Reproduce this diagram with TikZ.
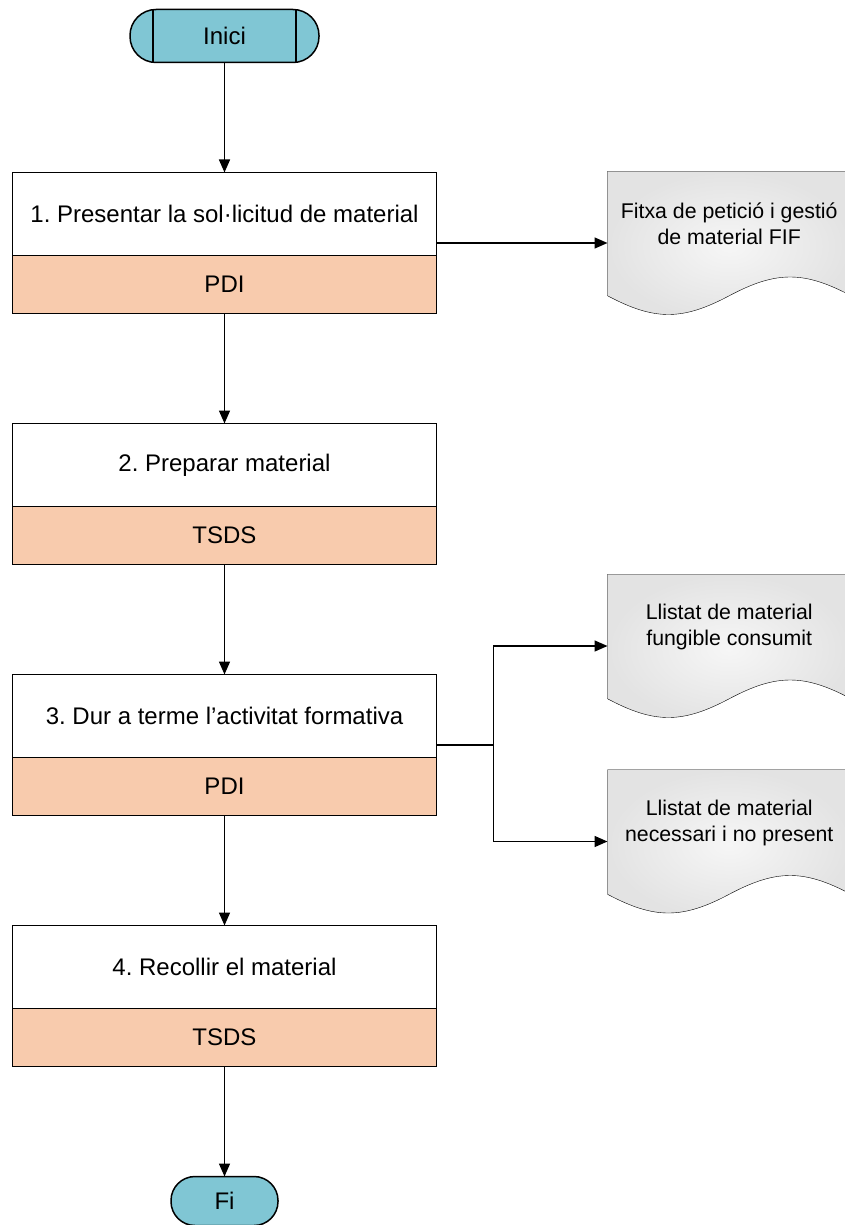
\documentclass[tikz,border=0pt]{standalone}
\usepackage{fontspec}
\setmainfont{Liberation Sans}
\frenchspacing
\usetikzlibrary{positioning,arrows.meta,calc,backgrounds}
\definecolor{startblue}{RGB}{128,198,212}
\definecolor{roleorange}{RGB}{248,203,173}

\begin{document}
\begin{tikzpicture}[node distance=110pt, >={Triangle[length=13pt,width=11pt]}, line width=1.5pt]
      % Styles
      \tikzset{
        terminal/.style={rectangle, draw=black, fill=startblue, rounded corners=26pt,
                         minimum height=53pt, outer sep=0pt, font=\fontsize{24}{29}\selectfont},
        stepbox/.style={rectangle, draw=black, fill=white, minimum width=424pt,
                        minimum height=83pt, outer sep=0pt, font=\fontsize{24}{29}\selectfont},
        rolebox/.style={stepbox, fill=roleorange, minimum height=58pt},
        docnode/.style={rectangle, minimum width=242pt, minimum height=104pt, inner sep=0pt,
                        align=center, font=\fontsize{21.3}{26}\selectfont},
        docline/.style={draw=black, inner color=gray!7, outer color=gray!22}
      }
      \useasboundingbox (0pt,0pt) rectangle (844pt,-1225pt);

      % Nodes
      \node[terminal, minimum width=189pt] (start) at (224.5pt,-36pt) {Inici};
      \node[stepbox, below=of start] (step1) {1. Presentar la sol·licitud de material};
      \node[rolebox, below=0pt of step1] (role1) {PDI};
      \node[stepbox, below=of role1] (step2) {2. Preparar material};
      \node[rolebox, below=0pt of step2] (role2) {TSDS};
      \node[stepbox, below=of role2] (step3) {3. Dur a terme l’activitat formativa};
      \node[rolebox, below=0pt of step3] (role3) {PDI};
      \node[stepbox, below=of role3] (step4) {4. Recollir el material};
      \node[rolebox, below=0pt of step4] (role4) {TSDS};
      \node[terminal, minimum width=107pt, minimum height=49pt, rounded corners=24pt,
            below=of role4] (end) {Fi};

      \draw ([xshift=23pt]start.north west) -- ([xshift=23pt]start.south west);
      \draw ([xshift=-23pt]start.north east) -- ([xshift=-23pt]start.south east);

      % Documents
      \coordinate (out1) at ($(step1.north east)!0.5!(role1.south east)$);
      \coordinate (out3) at ($(step3.north east)!0.5!(role3.south east)$);
      \node[docnode, right=171pt of out1, yshift=19pt] (doc1) {Fitxa de petició i gestió\\de material FIF};
      \node[docnode, right=171pt of out3, yshift=118pt] (doc2) {Llistat de material\\fungible consumit};
      \node[docnode, below=90pt of doc2] (doc3) {Llistat de material\\necessari i no present};

      \begin{scope}[on background layer]
        \foreach \d in {doc1,doc2,doc3}
          \draw[docline] (\d.north west) -- (\d.north east) -- ([yshift=-19pt]\d.south east)
            .. controls +(-47pt,25pt) and +(47pt,25pt) .. ([yshift=-19pt]\d.south)
            .. controls +(-47pt,-25pt) and +(47pt,-25pt) .. ([yshift=-19pt]\d.south west) -- cycle;
      \end{scope}

      % Arrows
      \draw[->] (start) -- (step1);
      \draw[->] (role1) -- (step2);
      \draw[->] (role2) -- (step3);
      \draw[->] (role3) -- (step4);
      \draw[->] (role4) -- (end);
      \draw[->] (out1) -- (out1 -| doc1.west);
      \coordinate (fork) at ($(out3)+(57pt,0pt)$);
      \draw (out3) -- (fork);
      \draw[->] (fork) |- ([yshift=-19pt]doc2.west);
      \draw[->] (fork) |- ([yshift=-19pt]doc3.west);
\end{tikzpicture}
\end{document}
